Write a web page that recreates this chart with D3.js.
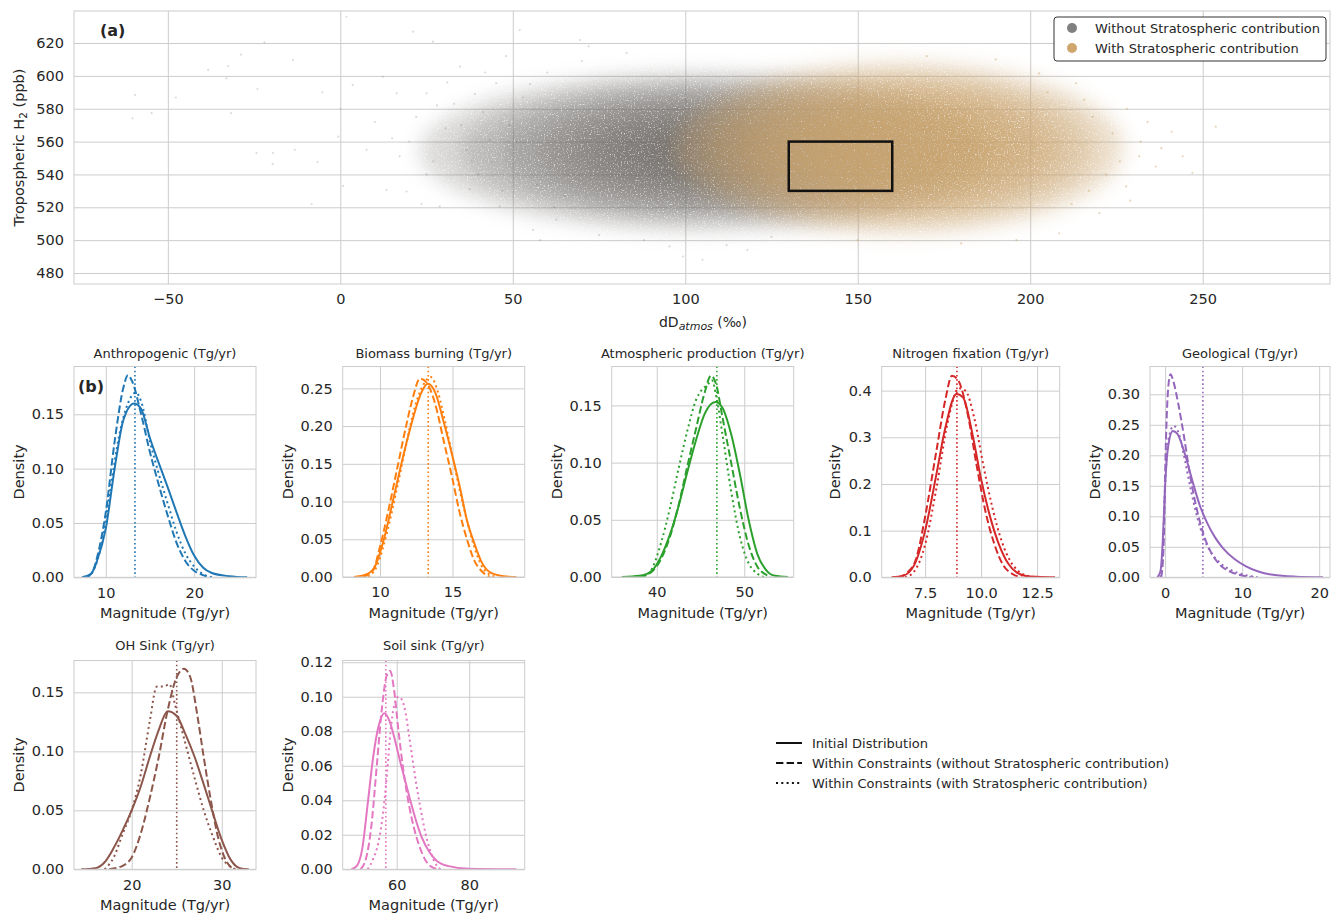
<!DOCTYPE html>
<html>
<head>
<meta charset="utf-8">
<script src="https://cdn.jsdelivr.net/npm/d3@7"></script>
<style>
  body { margin: 0; background: #fff; }
  text { font-family: "DejaVu Sans", sans-serif; fill: #262626; }
</style>
</head>
<body>
<div id="chart"></div>
<script>
// ---- panel (a): scatter cloud, summarised as density levels
var scatterLabels = ["Without Stratospheric contribution", "With Stratospheric contribution"];
var topXTicks = [-50, 0, 50, 100, 150, 200, 250];
var topYTicks = [480, 500, 520, 540, 560, 580, 600, 620];
// centre of each cloud [dD, ppb]
var greyCentre = [105, 554];
var tanCentre = [162, 556];
// half widths of each density level [dD, ppb], outer to inner
var greyLevels = [[82, 48], [70, 43], [58, 38], [47, 32], [37, 26], [27, 20], [17, 14]];
var tanLevels = [[65, 52], [56, 45], [47, 39], [39, 32], [30, 26], [21, 19]];
// stray points in the thin tails
var greyStray = [[-60.2, 574.2], [-54.7, 577.3], [-59.5, 588.4], [-47.7, 586.8], [-38.3, 603.6], [-32.5, 606],
  [-33, 598.5], [-28.8, 613], [-22, 620.4], [-24, 592], [-31.7, 577.3], [-24.3, 553], [-19.5, 553], [-19.6, 546.3],
  [-13.7, 609.7], [-13.2, 555], [-8.3, 522], [-6.6, 547.5], [-5.2, 590], [0.8, 533], [1.8, 636], [0, 580],
  [-0.6, 563], [7.6, 555], [13.4, 530.6], [21.1, 626.9], [19.2, 529.6], [23.5, 522.1], [26.9, 620.8], [28.8, 520.5],
  [3.6, 594.5], [12.3, 599.5], [16.3, 589.4], [25, 589.4], [17.2, 551], [34.7, 605.6], [41.4, 578], [37.5, 531],
  [46.2, 520.5], [36.6, 555], [43.3, 561], [45.2, 595.5], [55.9, 506.3], [62.6, 512.4], [95.4, 496.2], [99.3, 490],
  [52, 627.9], [69.4, 621.8], [30.5, 568], [33, 583], [40, 540], [48, 612], [58, 500], [105, 488], [118, 494],
  [10, 572], [15, 562], [22, 575], [27, 548], [31, 596], [39, 589], [44, 548], [49, 570], [53, 587], [57, 534],
  [60, 602], [65, 527], [70, 609], [75, 503], [83, 614], [88, 500], [112, 497], [125, 502], [72, 618],
  [20, 560], [25, 540], [28, 582], [35, 570], [38, 548], [42, 602], [47, 530], [51, 560], [55, 595], [62, 520]];
var tanStray = [[231.6, 551], [236.4, 544.8], [223.9, 565], [227.8, 532.7], [220, 516.5], [215.7, 585.4],
  [213.3, 595.5], [244.2, 551], [208.4, 504.2], [202.6, 601.5], [247, 541], [253.8, 569.1], [226, 548],
  [232, 560], [218, 575], [238, 556], [229, 524], [210, 610], [196, 500], [180, 498], [241, 566],
  [222, 540], [234, 572], [217, 530], [228, 580], [212, 522], [205, 590], [190, 610], [170, 612], [150, 500]];
var boxX = [130, 160];
var boxY = [530, 560];

// ---- panel (b): KDE curves [magnitude, density]
var panelTitles = ["Anthropogenic (Tg/yr)", "Biomass burning (Tg/yr)", "Atmospheric production (Tg/yr)",
  "Nitrogen fixation (Tg/yr)", "Geological (Tg/yr)", "OH Sink (Tg/yr)", "Soil sink (Tg/yr)"];
var legendLabels = ["Initial Distribution", "Within Constraints (without Stratospheric contribution)",
  "Within Constraints (with Stratospheric contribution)"];
var meanLines = [13.3, 13.33, 46.87, 8.92, 4.9, 25.0, 57.0];
var xTickLists = [[10, 20], [10, 15], [40, 50], [7.5, 10, 12.5], [0, 10, 20], [20, 30], [60, 80]];
var yTickLists = [[0, 0.05, 0.10, 0.15], [0, 0.05, 0.10, 0.15, 0.20, 0.25], [0, 0.05, 0.10, 0.15],
  [0, 0.1, 0.2, 0.3, 0.4], [0, 0.05, 0.10, 0.15, 0.20, 0.25, 0.30], [0, 0.05, 0.10, 0.15],
  [0, 0.02, 0.04, 0.06, 0.08, 0.10, 0.12]];

var anthroInit = [[7.3,0],[8.3,0.003],[9,0.015],[10,0.045],[11,0.1],[12,0.145],[13.2,0.16],[14,0.155],[15,0.128],[16,0.105],[17,0.083],[18,0.06],[19,0.038],[20,0.02],[21,0.009],[22,0.004],[24,0.001],[26,0]];
var anthroNoStrat = [[7.8,0],[8.5,0.005],[9,0.018],[10,0.06],[11,0.125],[12,0.175],[12.5,0.186],[13,0.18],[14,0.15],[15,0.115],[16,0.085],[17,0.057],[18,0.032],[19,0.015],[20,0.006],[21,0.002],[22,0]];
var anthroStrat = [[8,0],[8.7,0.008],[9.5,0.03],[10.5,0.08],[11.5,0.13],[12.5,0.16],[13.4,0.17],[14,0.162],[15,0.125],[16,0.095],[17,0.068],[18,0.042],[19,0.022],[20,0.01],[21,0.003],[22,0]];

var biomassInit = [[8.2,0],[9,0.003],[9.6,0.012],[10.2,0.045],[11,0.11],[11.6,0.16],[12.2,0.205],[12.8,0.242],[13.3,0.256],[13.8,0.245],[14.4,0.205],[15,0.16],[15.5,0.12],[16,0.075],[16.5,0.045],[17,0.02],[17.6,0.006],[18.5,0.001],[19.4,0]];
var biomassNoStrat = [[8.8,0],[9.5,0.008],[10,0.04],[10.6,0.09],[11.2,0.145],[11.8,0.2],[12.3,0.24],[12.75,0.263],[13.2,0.258],[13.8,0.23],[14.4,0.18],[15,0.13],[15.5,0.085],[16,0.05],[16.5,0.022],[17,0.008],[17.6,0]];
var biomassStrat = [[9.2,0],[9.8,0.015],[10.5,0.06],[11.2,0.12],[11.8,0.175],[12.4,0.225],[13,0.255],[13.5,0.265],[14,0.245],[14.5,0.205],[15,0.16],[15.5,0.115],[16,0.075],[16.5,0.04],[17,0.015],[17.5,0.004],[18,0]];

var atmosInit = [[36,0],[38,0.001],[39.5,0.006],[40.5,0.018],[41.5,0.037],[42.5,0.062],[43.5,0.092],[44.5,0.12],[45.5,0.143],[46.7,0.153],[47.5,0.148],[48.5,0.125],[49.5,0.09],[50.5,0.05],[51.5,0.02],[52.5,0.006],[53.5,0.001],[55,0]];
var atmosNoStrat = [[38,0],[39.5,0.005],[40.5,0.016],[41.5,0.035],[42.5,0.063],[43.5,0.097],[44.5,0.13],[45.5,0.162],[46.2,0.176],[46.8,0.168],[47.5,0.14],[48.5,0.1],[49.5,0.06],[50.5,0.028],[51.5,0.009],[52.5,0.002],[53,0]];
var atmosStrat = [[38.5,0],[39.5,0.008],[40.5,0.03],[41.5,0.06],[42.5,0.095],[43.5,0.128],[44.5,0.155],[45.2,0.164],[45.8,0.168],[46.3,0.172],[46.8,0.158],[47.5,0.125],[48.5,0.075],[49.5,0.035],[50.5,0.012],[51.5,0.003],[52.2,0]];

var nitroInit = [[6,0],[6.5,0.003],[7,0.025],[7.5,0.1],[8,0.22],[8.4,0.32],[8.9,0.393],[9.2,0.385],[9.6,0.31],[10,0.21],[10.4,0.13],[10.8,0.07],[11.2,0.03],[11.6,0.01],[12,0.003],[12.5,0.001],[13.3,0]];
var nitroNoStrat = [[6.3,0],[6.7,0.01],[7.1,0.04],[7.5,0.13],[8,0.27],[8.4,0.38],[8.7,0.432],[9,0.42],[9.4,0.35],[9.8,0.24],[10.2,0.14],[10.6,0.07],[11,0.025],[11.4,0.007],[11.8,0]];
var nitroStrat = [[6.6,0],[7,0.012],[7.5,0.07],[8,0.19],[8.5,0.33],[9,0.405],[9.3,0.4],[9.7,0.34],[10.1,0.24],[10.5,0.15],[10.9,0.08],[11.3,0.035],[11.7,0.012],[12.1,0.003],[12.5,0]];

var geoInit = [[-1,0],[-0.6,0.01],[-0.3,0.06],[0,0.15],[0.4,0.215],[1,0.24],[1.6,0.235],[2.5,0.205],[3.5,0.16],[4.5,0.118],[5.5,0.088],[6.5,0.065],[7.5,0.048],[9,0.03],[10.5,0.018],[12,0.01],[14,0.004],[17,0.001],[20.5,0]];
var geoNoStrat = [[-0.5,0],[-0.2,0.05],[0.1,0.22],[0.4,0.31],[0.7,0.333],[1.1,0.32],[1.7,0.285],[2.4,0.235],[3.2,0.17],[4,0.118],[5,0.07],[6,0.04],[7,0.022],[8.5,0.009],[10,0.003],[11.5,0]];
var geoStrat = [[-0.6,0],[-0.3,0.04],[0,0.15],[0.5,0.23],[1.1,0.248],[1.8,0.235],[2.6,0.19],[3.4,0.14],[4.2,0.097],[5,0.065],[6,0.04],[7,0.025],[8.5,0.012],[10,0.005],[12,0]];

var ohInit = [[14.4,0],[16,0.001],[17,0.006],[18,0.018],[19,0.033],[20,0.05],[21,0.07],[22,0.095],[23,0.118],[24,0.134],[25,0.13],[26,0.114],[27,0.095],[28,0.072],[29,0.048],[30,0.025],[31,0.008],[32,0.001],[33,0]];
var ohNoStrat = [[17.5,0],[19,0.003],[20,0.01],[21,0.03],[22,0.06],[23,0.095],[24,0.135],[25,0.163],[25.8,0.17],[26.5,0.163],[27.3,0.13],[28,0.095],[28.8,0.058],[29.5,0.03],[30.2,0.012],[31,0.002],[31.5,0]];
var ohStrat = [[17,0],[18,0.01],[19,0.03],[20,0.05],[21,0.08],[22,0.125],[22.8,0.155],[23.6,0.155],[24.2,0.157],[24.8,0.14],[25.5,0.12],[26.3,0.097],[27,0.077],[28,0.05],[29,0.028],[30,0.01],[31,0.002],[31.5,0]];

var soilInit = [[47.5,0],[49,0.002],[50.5,0.012],[52,0.038],[53.5,0.065],[55,0.083],[56.6,0.0905],[58,0.086],[59.5,0.075],[61,0.062],[62.5,0.05],[64,0.038],[65.5,0.027],[67,0.018],[69,0.01],[71,0.005],[74,0.002],[80,0.0003],[93,0]];
var soilNoStrat = [[50,0],[51.5,0.006],[53,0.025],[54.5,0.06],[56,0.095],[57.2,0.112],[58.2,0.115],[59.2,0.105],[60.5,0.08],[62,0.055],[63.5,0.036],[65,0.022],[66.5,0.012],[68,0.005],[70,0.001],[72,0]];
var soilStrat = [[52,0],[53.5,0.006],[55,0.016],[56.2,0.032],[57.3,0.055],[58.3,0.08],[59.3,0.095],[60.5,0.1],[61.5,0.098],[62.5,0.09],[63.5,0.076],[64.5,0.062],[65.5,0.048],[66.5,0.036],[67.5,0.025],[68.5,0.016],[69.5,0.009],[70.5,0.004],[72,0]];

var width = 1331;
var height = 916;
var gridColour = "#cccccc";

var svg = d3.select("#chart")
  .append("svg")
  .attr("width", width)
  .attr("height", height);

var defs = svg.append("defs");
// soft, lightly grainy fill for the point clouds
var soft = defs.append("filter")
  .attr("id", "soft")
  .attr("x", "-30%").attr("y", "-60%")
  .attr("width", "160%").attr("height", "220%")
  .attr("color-interpolation-filters", "sRGB");
soft.append("feGaussianBlur")
  .attr("in", "SourceGraphic")
  .attr("stdDeviation", 10)
  .attr("result", "b");
soft.append("feTurbulence")
  .attr("type", "fractalNoise")
  .attr("baseFrequency", 0.7)
  .attr("numOctaves", 2)
  .attr("seed", 4)
  .attr("result", "n");
soft.append("feColorMatrix")
  .attr("in", "n")
  .attr("type", "matrix")
  .attr("values", "0 0 0 0 0  0 0 0 0 0  0 0 0 0 0  2.4 0 0 0 -0.05")
  .attr("result", "m");
soft.append("feComposite")
  .attr("in", "b")
  .attr("in2", "m")
  .attr("operator", "in");

scatterPanel();

var curveSets = [
  [anthroInit, anthroNoStrat, anthroStrat],
  [biomassInit, biomassNoStrat, biomassStrat],
  [atmosInit, atmosNoStrat, atmosStrat],
  [nitroInit, nitroNoStrat, nitroStrat],
  [geoInit, geoNoStrat, geoStrat],
  [ohInit, ohNoStrat, ohStrat],
  [soilInit, soilNoStrat, soilStrat]
];
var colours = ["#1f77b4", "#ff7f0e", "#2ca02c", "#d62728", "#9467bd", "#8c564b", "#e377c2"];
var boxes = [
  [74, 366.5, 182, 210.8], [342.7, 366.5, 182, 210.5], [611.7, 366.5, 182, 210.5],
  [881.7, 366.5, 178, 210.8], [1150, 366.5, 180, 210.8],
  [74, 660.5, 182, 208.8], [342.7, 660.5, 182, 208.8]
];
var xDomains = [[6.4, 27], [7.43, 19.98], [34.85, 55.65], [5.56, 13.51], [-1.96, 21.4], [13.6, 33.8], [45.1, 95.3]];
var yDomains = [[0, 0.194], [0, 0.279], [0, 0.184], [0, 0.4517], [0, 0.3456], [0, 0.177], [0, 0.121]];
var yFormats = [".2f", ".2f", ".2f", ".1f", ".2f", ".2f", ".2f"];
var xFormats = ["d", "d", "d", ".1f", "d", "d", "d"];
var dashes = [null, "7.4,3.2", "2,3.3"];

for (var i = 0; i < panelTitles.length; i++) {
  kdePanel(i);
}
lineLegend();

function scatterPanel() {
  var left = 74, top = 11, right = 1330, bottom = 284;
  var x = d3.scaleLinear().domain([-77.2, 286.9]).range([left, right]);
  var y = d3.scaleLinear().domain([473.3, 639.5]).range([bottom, top]);

  defs.append("clipPath").attr("id", "clipTop")
    .append("rect").attr("x", left).attr("y", top)
    .attr("width", right - left).attr("height", bottom - top);

  svg.append("g")
    .attr("transform", "translate(0," + bottom + ")")
    .call(d3.axisBottom(x).tickValues(topXTicks).tickSize(-(bottom - top)).tickPadding(10))
    .call(styleAxis);
  svg.append("g")
    .attr("transform", "translate(" + left + ",0)")
    .call(d3.axisLeft(y).tickValues(topYTicks).tickSize(-(right - left)).tickPadding(10))
    .call(styleAxis);

  var plot = svg.append("g").attr("clip-path", "url(#clipTop)");

  plot.selectAll("circle.grey")
    .data(greyStray).enter()
    .append("circle")
    .attr("cx", function(d) { return x(d[0]); })
    .attr("cy", function(d) { return y(d[1]); })
    .attr("r", 1.1)
    .attr("fill", "#8a8a8a")
    .attr("opacity", 0.3);

  plot.selectAll("circle.tan")
    .data(tanStray).enter()
    .append("circle")
    .attr("cx", function(d) { return x(d[0]); })
    .attr("cy", function(d) { return y(d[1]); })
    .attr("r", 1.1)
    .attr("fill", "#c9a36a")
    .attr("opacity", 0.45);

  cloud(plot, x, y, greyCentre, greyLevels, "#68645f", 0.25);
  cloud(plot, x, y, tanCentre, tanLevels, "#caa46c", 0.37);

  svg.append("rect")
    .attr("x", x(boxX[0]))
    .attr("y", y(boxY[1]))
    .attr("width", x(boxX[1]) - x(boxX[0]))
    .attr("height", y(boxY[0]) - y(boxY[1]))
    .attr("fill", "none")
    .attr("stroke", "#111")
    .attr("stroke-width", 2.5);

  svg.append("rect")
    .attr("x", left).attr("y", top)
    .attr("width", right - left).attr("height", bottom - top)
    .attr("fill", "none").attr("stroke", gridColour);

  svg.append("text")
    .attr("x", 100).attr("y", 36)
    .style("font-weight", "bold")
    .style("font-size", "16px")
    .text("(a)");

  // legend
  var lg = svg.append("g");
  lg.append("rect")
    .attr("x", 1054).attr("y", 17)
    .attr("width", 272).attr("height", 44)
    .attr("rx", 3)
    .attr("fill", "#fff")
    .attr("stroke", "#333");
  var legendColours = ["#808080", "#cfa66c"];
  lg.selectAll("circle")
    .data(scatterLabels).enter()
    .append("circle")
    .attr("cx", 1072)
    .attr("cy", function(d, k) { return 28 + k * 20; })
    .attr("r", 5)
    .attr("fill", function(d, k) { return legendColours[k]; });
  lg.selectAll("text")
    .data(scatterLabels).enter()
    .append("text")
    .attr("x", 1095)
    .attr("y", function(d, k) { return 32.5 + k * 20; })
    .style("font-size", "13px")
    .text(function(d) { return d; });

  // axis labels
  var xl = svg.append("text")
    .attr("x", 703)
    .attr("y", 327)
    .style("text-anchor", "middle")
    .style("font-size", "14px");
  xl.append("tspan").text("dD");
  xl.append("tspan").attr("dy", 3).style("font-style", "italic").style("font-size", "11px").text("atmos");
  xl.append("tspan").attr("dy", -3).text(" (‰)");

  var yl = svg.append("text")
    .attr("transform", "translate(24," + ((top + bottom) / 2) + ") rotate(-90)")
    .style("text-anchor", "middle")
    .style("font-size", "14.5px");
  yl.append("tspan").text("Tropospheric H");
  yl.append("tspan").attr("dy", 3).style("font-size", "10.5px").text("2");
  yl.append("tspan").attr("dy", -3).text(" (ppb)");
}

function cloud(g, x, y, centre, levels, colour, alpha) {
  g.append("g")
    .attr("filter", "url(#soft)")
    .selectAll("ellipse")
    .data(levels).enter()
    .append("ellipse")
    .attr("cx", x(centre[0]))
    .attr("cy", y(centre[1]))
    .attr("rx", function(d) { return x(centre[0] + d[0]) - x(centre[0]); })
    .attr("ry", function(d) { return y(centre[1] - d[1]) - y(centre[1]); })
    .attr("fill", colour)
    .attr("fill-opacity", alpha);
}

function styleAxis(g) {
  g.select(".domain").remove();
  g.selectAll(".tick line").attr("stroke", gridColour);
  g.selectAll(".tick text")
    .style("font-size", "14.5px")
    .style("font-family", "DejaVu Sans, sans-serif")
    .attr("fill", "#262626");
}

function kdePanel(i) {
  var b = boxes[i];
  var left = b[0], top = b[1], w = b[2], h = b[3];
  var x = d3.scaleLinear().domain(xDomains[i]).range([left, left + w]);
  var y = d3.scaleLinear().domain(yDomains[i]).range([top + h, top]);

  svg.append("g")
    .attr("transform", "translate(0," + (top + h) + ")")
    .call(d3.axisBottom(x).tickValues(xTickLists[i]).tickFormat(d3.format(xFormats[i]))
      .tickSize(-h).tickPadding(10))
    .call(styleAxis);
  svg.append("g")
    .attr("transform", "translate(" + left + ",0)")
    .call(d3.axisLeft(y).tickValues(yTickLists[i]).tickFormat(d3.format(yFormats[i]))
      .tickSize(-w).tickPadding(10))
    .call(styleAxis);

  defs.append("clipPath").attr("id", "clip" + i)
    .append("rect").attr("x", left).attr("y", top).attr("width", w).attr("height", h);

  var plot = svg.append("g").attr("clip-path", "url(#clip" + i + ")");
  var line = d3.line()
    .x(function(d) { return x(d[0]); })
    .y(function(d) { return y(d[1]); })
    .curve(d3.curveMonotoneX);

  curveSets[i].forEach(function(data, k) {
    plot.append("path")
      .datum(data)
      .attr("d", line)
      .attr("fill", "none")
      .attr("stroke", colours[i])
      .attr("stroke-width", 2)
      .attr("stroke-dasharray", dashes[k]);
  });

  plot.append("line")
    .attr("x1", x(meanLines[i])).attr("x2", x(meanLines[i]))
    .attr("y1", top).attr("y2", top + h)
    .attr("stroke", colours[i])
    .attr("stroke-width", 1.6)
    .attr("stroke-dasharray", "1.6,2.6");

  svg.append("rect")
    .attr("x", left).attr("y", top).attr("width", w).attr("height", h)
    .attr("fill", "none").attr("stroke", gridColour);

  svg.append("text")
    .attr("x", left + w / 2)
    .attr("y", i < 5 ? 358 : 650)
    .style("text-anchor", "middle")
    .style("font-size", "13px")
    .text(panelTitles[i]);

  svg.append("text")
    .attr("x", left + w / 2)
    .attr("y", top + h + 41)
    .style("text-anchor", "middle")
    .style("font-size", "14.5px")
    .text("Magnitude (Tg/yr)");

  var pad = yFormats[i] == ".1f" ? 42 : 50;
  svg.append("text")
    .attr("transform", "translate(" + (left - pad) + "," + (top + h / 2) + ") rotate(-90)")
    .style("text-anchor", "middle")
    .style("font-size", "14.5px")
    .text("Density");

  if (i == 0) {
    svg.append("text")
      .attr("x", left + 4).attr("y", top + 25)
      .style("font-weight", "bold")
      .style("font-size", "16px")
      .text("(b)");
  }
}

function lineLegend() {
  var lg = svg.append("g");
  legendLabels.forEach(function(label, k) {
    var yy = 743 + k * 20;
    lg.append("line")
      .attr("x1", 776).attr("x2", 802)
      .attr("y1", yy).attr("y2", yy)
      .attr("stroke", "#111")
      .attr("stroke-width", 2)
      .attr("stroke-dasharray", dashes[k]);
    lg.append("text")
      .attr("x", 812).attr("y", yy + 4.5)
      .style("font-size", "13px")
      .text(label);
  });
}
</script>
</body>
</html>
